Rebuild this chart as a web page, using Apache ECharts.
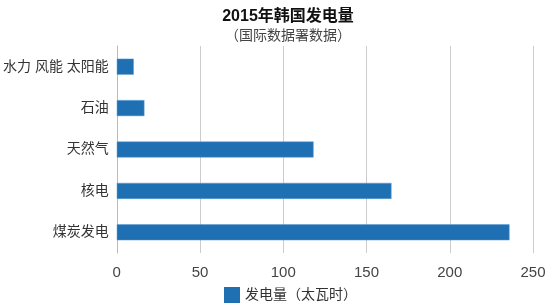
<!DOCTYPE html>
<html><head><meta charset="utf-8">
<script src="https://cdn.jsdelivr.net/npm/echarts@6/dist/echarts.min.js"></script>
<style>html,body{margin:0;padding:0;background:#fff}#c{width:554px;height:307px}</style>
</head><body><div id="c"></div>
<script>
const categories = ['水力 风能 太阳能', '石油', '天然气', '核电', '煤炭发电'];
const values = [10.2, 16.6, 118.2, 165, 235.9];
const seriesName = '发电量（太瓦时）';
const xTicks = [0, 50, 100, 150, 200, 250];

const FONT = '"Liberation Sans", "Noto Sans CJK SC", sans-serif';
const chart = echarts.init(document.getElementById('c'), null, {renderer: 'canvas'});
chart.setOption({
  animation: false,
  textStyle: {fontFamily: FONT},
  title: [
    {text: '2015年韩国发电量', left: 283, top: 4, textAlign: 'center',
     textStyle: {fontSize: 16, fontWeight: 'bold', color: '#111', fontFamily: FONT}},
    {text: '（国际数据署数据）', left: 283, top: 24, textAlign: 'center',
     textStyle: {fontSize: 14, fontWeight: 'normal', color: '#444', fontFamily: FONT}}
  ],
  legend: {
    data: [{name: seriesName, icon: 'rect', itemStyle: {borderWidth: 0}}], left: 219, top: 282, itemWidth: 16, itemHeight: 16, itemGap: 8,
    textStyle: {fontSize: 14, color: '#333', fontFamily: FONT}
  },
  grid: {left: 116, right: 21, top: 46, bottom: 54, containLabel: false},
  xAxis: {
    type: 'value', min: xTicks[0], max: xTicks[xTicks.length - 1], interval: 50,
    axisLine: {show: false}, axisTick: {show: false},
    splitLine: {show: true, lineStyle: {color: '#cccccc', width: 1}},
    axisLabel: {fontSize: 15, color: '#444', margin: 12, fontFamily: FONT}
  },
  yAxis: {
    type: 'category', data: categories, inverse: true,
    axisLine: {show: true, lineStyle: {color: '#bbbbbb'}},
    axisTick: {show: false},
    axisLabel: {fontSize: 14, color: '#333', margin: 8, fontFamily: FONT}
  },
  series: [{
    name: seriesName, type: 'bar', data: values, barWidth: 16,
    itemStyle: {color: '#1f70b3', borderColor: '#5a9ad2', borderWidth: 0.5}
  }]
});
</script></body></html>
